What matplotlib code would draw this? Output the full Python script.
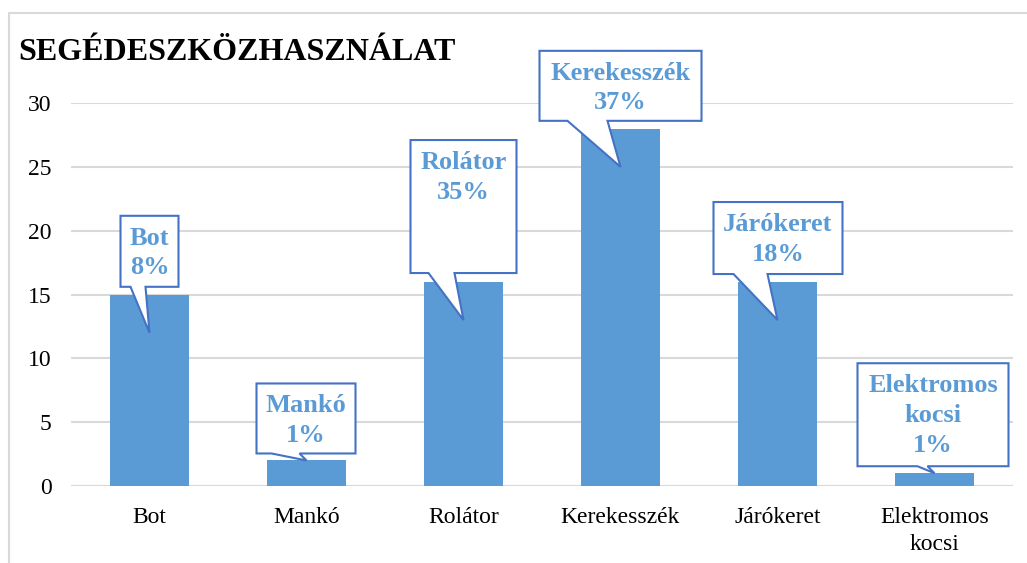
import numpy as np
import matplotlib.pyplot as plt
from matplotlib.patches import Polygon, Rectangle
from matplotlib.transforms import ScaledTranslation

# Adatok
categories = ["Bot", "Mankó", "Rolátor", "Kerekesszék", "Járókeret", "Elektromos\nkocsi"]
values = [15, 2, 16, 28, 16, 1]
percents = ["8%", "1%", "35%", "37%", "18%", "1%"]
callout_names = ["Bot", "Mankó", "Rolátor", "Kerekesszék", "Járókeret", "Elektromos\nkocsi"]

# Buborékok alakja pixelben a csúcshoz képest: bal, jobb, felső, alsó, farok bal, farok jobb
bubbles = [(-29, 29, -117, -46, -19, -4),
           (-50, 49, -77, -7, -35, -7),
           (-53, 53, -180, -47, -35, -9),
           (-81, 81, -116, -46, -53, -13),
           (-64, 65, -118, -46, -44, -10),
           (-77, 74, -110, -7, -17, -7)]

plt.rcParams['font.family'] = ['Liberation Serif', 'DejaVu Serif']

W, H = 1027, 563
fig = plt.figure(figsize=(W / 100, H / 100), dpi=100)
fig.patches.append(Rectangle((9 / W, -0.1), 1.2, 1 - 13 / H + 0.1, transform=fig.transFigure,
                             fill=False, edgecolor="#D9D9D9", linewidth=1.5))
ax = fig.add_axes([71 / W, 77 / H, 942 / W, 383 / H])

x = np.arange(len(categories))
ax.bar(x, values, width=0.5, color="#5B9BD5", zorder=2)
ax.set_xlim(-0.5, len(categories) - 0.5)
ax.set_ylim(0, 30)
ax.set_yticks(range(0, 31, 5))
ax.set_xticks(x)
ax.set_xticklabels(categories, fontsize=17, linespacing=1.4)
ax.tick_params(axis="both", length=0, labelsize=17)
ax.tick_params(axis="y", pad=14)
ax.tick_params(axis="x", pad=15)
ax.grid(axis="y", color="#D9D9D9", linewidth=1.5, zorder=0)
for s in ["top", "right", "left", "bottom"]:
    ax.spines[s].set_visible(False)
ax.axhline(0, color="#D9D9D9", linewidth=1.5, zorder=1)

fig.text(18 / W, 1 - 52 / H, "SEGÉDESZKÖZHASZNÁLAT", fontsize=23, fontweight="bold",
         va="center", ha="left")

for i, v in enumerate(values):
    tip_y = v - 3 if v > 3 else v
    l, r, t, b, tl, tr = bubbles[i]
    tr_ = fig.dpi_scale_trans + ScaledTranslation(i, tip_y, ax.transData)
    pts = [(l, t), (r, t), (r, b), (tr, b), (0, 0), (tl, b), (l, b)]
    pts = [(px / 100, -py / 100) for px, py in pts]
    ax.add_patch(Polygon(pts, closed=True, transform=tr_, facecolor="white",
                         edgecolor="#4472C4", linewidth=1.5, zorder=5, clip_on=False))
    ax.text((l + r) / 200, -(t + 11) / 100, callout_names[i] + "\n" + percents[i],
            transform=tr_, ha="center", va="top", fontsize=19, fontweight="bold",
            color="#5B9BD5", zorder=6, linespacing=1.37)

fig.savefig("out.png", dpi=100)
